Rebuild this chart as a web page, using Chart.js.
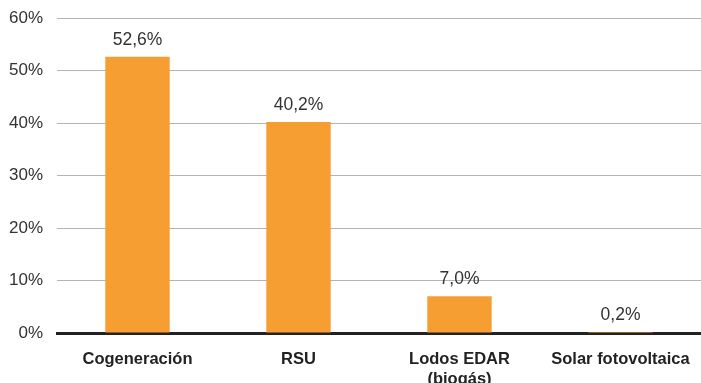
<!DOCTYPE html>
<html>
<head>
<meta charset="utf-8">
<script src="https://cdn.jsdelivr.net/npm/chart.js@4/dist/chart.umd.min.js"></script>
<style>
  html, body { margin: 0; padding: 0; background: #fff; }
  #wrap { width: 701px; height: 383px; }
</style>
</head>
<body>
<div id="wrap"><canvas id="chart" width="701" height="383"></canvas></div>
<script>
// Source shares (%)
const categories = ['Cogeneración', 'RSU', ['Lodos EDAR', '(biogás)'], 'Solar fotovoltaica'];
const shares = [52.6, 40.2, 7.0, 0.2];
const yTicks = [0, 10, 20, 30, 40, 50, 60];

const FONT = '"Liberation Sans", Arial, Helvetica, sans-serif';

// Value labels above each bar, Spanish decimal comma
const barLabels = {
  id: 'barLabels',
  afterDatasetsDraw(chart) {
    const ctx = chart.ctx;
    const meta = chart.getDatasetMeta(0);
    ctx.save();
    ctx.font = '17.5px ' + FONT;
    ctx.fillStyle = '#333';
    ctx.textAlign = 'center';
    ctx.textBaseline = 'middle';
    meta.data.forEach((bar, i) => {
      const txt = shares[i].toFixed(1).replace('.', ',') + '%';
      ctx.fillText(txt, bar.x, bar.y - 17);
    });
    ctx.restore();
  }
};

new Chart(document.getElementById('chart'), {
  type: 'bar',
  data: {
    labels: categories,
    datasets: [{
      data: shares,
      backgroundColor: '#F79E33',
      barPercentage: 0.4,
      categoryPercentage: 1
    }]
  },
  options: {
    responsive: false,
    animation: false,
    layout: { padding: { top: 18, right: 0, bottom: 0, left: 0 } },
    plugins: { legend: { display: false }, tooltip: { enabled: false } },
    scales: {
      x: {
        grid: { display: false, drawTicks: false },
        border: { display: true, color: '#222', width: 3 },
        ticks: {
          color: '#222',
          padding: 17,
          maxRotation: 0,
          autoSkip: false,
          font: { family: FONT, size: 16.5, weight: 'bold', lineHeight: 1.2 }
        },
        afterFit(scale) {
          scale.height = 50;
          scale.paddingLeft = 0;
          scale.paddingRight = 0;
        }
      },
      y: {
        min: 0,
        max: 60,
        afterBuildTicks(scale) { scale.ticks = yTicks.map(v => ({ value: v })); },
        grid: { color: '#b4b4b4', lineWidth: 1, drawTicks: false },
        border: { display: false },
        ticks: {
          color: '#333',
          padding: 14,
          font: { family: FONT, size: 17 },
          callback: v => v + '%'
        },
        afterFit(scale) {
          scale.width = 57;
          scale.paddingTop = 0;
          scale.paddingBottom = 0;
        }
      }
    }
  },
  plugins: [barLabels]
});
</script>
</body>
</html>
